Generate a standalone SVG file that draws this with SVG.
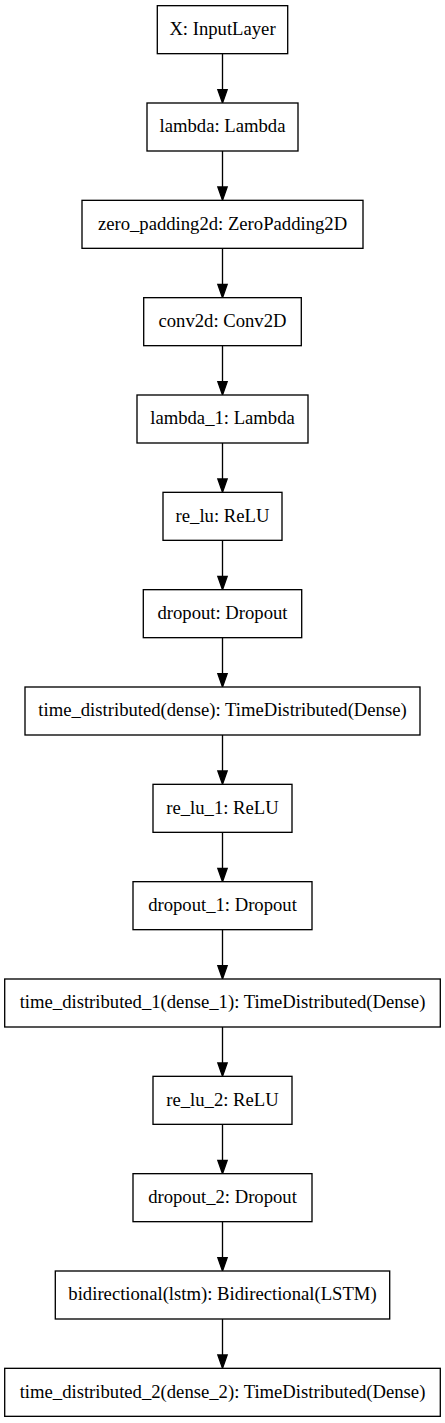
<svg xmlns="http://www.w3.org/2000/svg" width="445" height="1423" viewBox="0 0 445 1423">
<defs>
<style>
.n rect{fill:#fff;stroke:#000;stroke-width:1.33}
.n text{font-family:"Liberation Serif","Times New Roman",serif;font-size:18.67px;fill:#000;text-anchor:middle}
.e line{stroke:#000;stroke-width:1.33}
.e polygon{fill:#000;stroke:#000;stroke-width:1.33}
</style>
</defs>
<rect width="445" height="1423" fill="#fff"/>
<g id="connectors" class="e">
<line x1="222.5" y1="53.67" x2="222.5" y2="89.7"/><polygon points="217.83,89.7 227.17,89.7 222.5,103"/>
<line x1="222.5" y1="151" x2="222.5" y2="187.03"/><polygon points="217.83,187.03 227.17,187.03 222.5,200.33"/>
<line x1="222.5" y1="248.33" x2="222.5" y2="284.37"/><polygon points="217.83,284.37 227.17,284.37 222.5,297.67"/>
<line x1="222.5" y1="345.67" x2="222.5" y2="381.7"/><polygon points="217.83,381.7 227.17,381.7 222.5,395"/>
<line x1="222.5" y1="443" x2="222.5" y2="479.03"/><polygon points="217.83,479.03 227.17,479.03 222.5,492.33"/>
<line x1="222.5" y1="540.33" x2="222.5" y2="576.37"/><polygon points="217.83,576.37 227.17,576.37 222.5,589.67"/>
<line x1="222.5" y1="637.67" x2="222.5" y2="673.7"/><polygon points="217.83,673.7 227.17,673.7 222.5,687"/>
<line x1="222.5" y1="735" x2="222.5" y2="771.03"/><polygon points="217.83,771.03 227.17,771.03 222.5,784.33"/>
<line x1="222.5" y1="832.33" x2="222.5" y2="868.37"/><polygon points="217.83,868.37 227.17,868.37 222.5,881.67"/>
<line x1="222.5" y1="929.67" x2="222.5" y2="965.7"/><polygon points="217.83,965.7 227.17,965.7 222.5,979"/>
<line x1="222.5" y1="1027" x2="222.5" y2="1063.03"/><polygon points="217.83,1063.03 227.17,1063.03 222.5,1076.33"/>
<line x1="222.5" y1="1124.33" x2="222.5" y2="1160.37"/><polygon points="217.83,1160.37 227.17,1160.37 222.5,1173.67"/>
<line x1="222.5" y1="1221.67" x2="222.5" y2="1257.7"/><polygon points="217.83,1257.7 227.17,1257.7 222.5,1271"/>
<line x1="222.5" y1="1319" x2="222.5" y2="1355.03"/><polygon points="217.83,1355.03 227.17,1355.03 222.5,1368.33"/>
</g>
<g id="X" class="n"><rect x="157.3" y="5.67" width="130.4" height="48"/><text x="222.5" y="35">X: InputLayer</text></g>
<g id="lambda" class="n"><rect x="147" y="103" width="151" height="48"/><text x="222.5" y="132.3">lambda: Lambda</text></g>
<g id="zero_padding2d" class="n"><rect x="82" y="200.33" width="281" height="48"/><text x="222.5" y="229.7">zero_padding2d: ZeroPadding2D</text></g>
<g id="conv2d" class="n"><rect x="143.7" y="297.67" width="157.6" height="48"/><text x="222.5" y="327">conv2d: Conv2D</text></g>
<g id="lambda_1" class="n"><rect x="137" y="395" width="171" height="48"/><text x="222.5" y="424.3">lambda_1: Lambda</text></g>
<g id="re_lu" class="n"><rect x="163" y="492.33" width="119" height="48"/><text x="222.5" y="521.7">re_lu: ReLU</text></g>
<g id="dropout" class="n"><rect x="143.3" y="589.67" width="158.4" height="48"/><text x="222.5" y="619">dropout: Dropout</text></g>
<g id="time_distributed" class="n"><rect x="25" y="687" width="395" height="48"/><text x="222.5" y="716.3">time_distributed(dense): TimeDistributed(Dense)</text></g>
<g id="re_lu_1" class="n"><rect x="153" y="784.33" width="139" height="48"/><text x="222.5" y="813.7">re_lu_1: ReLU</text></g>
<g id="dropout_1" class="n"><rect x="133" y="881.67" width="179" height="48"/><text x="222.5" y="911">dropout_1: Dropout</text></g>
<g id="time_distributed_1" class="n"><rect x="4.7" y="979" width="435.6" height="48"/><text x="222.5" y="1008.3">time_distributed_1(dense_1): TimeDistributed(Dense)</text></g>
<g id="re_lu_2" class="n"><rect x="153" y="1076.33" width="139" height="48"/><text x="222.5" y="1105.7">re_lu_2: ReLU</text></g>
<g id="dropout_2" class="n"><rect x="133" y="1173.67" width="179" height="48"/><text x="222.5" y="1203">dropout_2: Dropout</text></g>
<g id="bidirectional" class="n"><rect x="55.3" y="1271" width="334.4" height="48"/><text x="222.5" y="1300.3">bidirectional(lstm): Bidirectional(LSTM)</text></g>
<g id="time_distributed_2" class="n"><rect x="4.7" y="1368.33" width="435.6" height="48"/><text x="222.5" y="1397.7">time_distributed_2(dense_2): TimeDistributed(Dense)</text></g>
</svg>
